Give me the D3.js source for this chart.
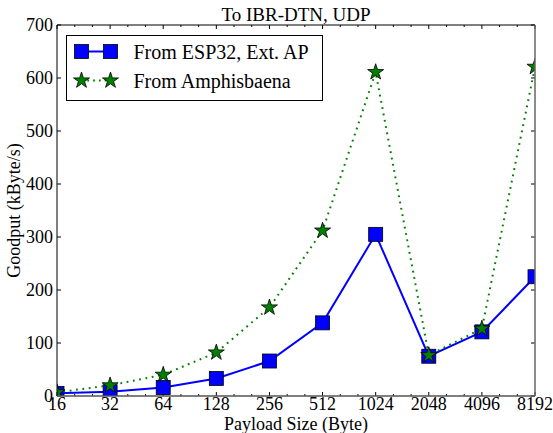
<!DOCTYPE html>
<html>
<head>
<meta charset="utf-8">
<script src="https://cdn.jsdelivr.net/npm/d3@7"></script>
<style>
  body { margin: 0; background: #fff; }
  text { font-family: "Liberation Serif", "DejaVu Serif", serif; }
</style>
</head>
<body>
<div id="chart"></div>
<script>
// payload sizes in bytes and goodput in kByte/s
const payloads = [16, 32, 64, 128, 256, 512, 1024, 2048, 4096, 8192]
const espGoodput = [5, 8, 16, 33, 66, 138, 305, 75, 121, 225]
const amphGoodput = [7, 20, 40, 82, 167, 312, 611, 77, 127, 621]
const yTicks = [0, 100, 200, 300, 400, 500, 600, 700]

const width = 553
const height = 433
const margin = { top: 25, right: 18, bottom: 37, left: 57 }
const w = width - margin.left - margin.right
const h = height - margin.top - margin.bottom

const svg = d3.select('#chart').append('svg')
  .attr('width', width)
  .attr('height', height)

const g = svg.append('g')
  .attr('transform', `translate(${margin.left}, ${margin.top})`)

const x = d3.scaleLog().base(2)
  .domain([16, 8192])
  .range([0, w])

const y = d3.scaleLinear()
  .domain([0, 700])
  .range([h, 0])

g.append('clipPath').attr('id', 'clip')
  .append('rect').attr('width', w).attr('height', h)

// ticks (inward, on all four sides)
const tickLen = 4
const minorTicks = []
payloads.slice(0, -1).forEach(p => {
  minorTicks.push(p * Math.pow(2, 1 / 3), p * Math.pow(2, 2 / 3))
})

const ticks = g.append('g').attr('stroke', '#000').attr('stroke-width', 1)
payloads.forEach(p => {
  ticks.append('line').attr('x1', x(p)).attr('x2', x(p)).attr('y1', h).attr('y2', h - tickLen)
  ticks.append('line').attr('x1', x(p)).attr('x2', x(p)).attr('y1', 0).attr('y2', tickLen)
})
minorTicks.forEach(p => {
  ticks.append('line').attr('x1', x(p)).attr('x2', x(p)).attr('y1', h).attr('y2', h - 2)
  ticks.append('line').attr('x1', x(p)).attr('x2', x(p)).attr('y1', 0).attr('y2', 2)
})
yTicks.forEach(t => {
  ticks.append('line').attr('x1', 0).attr('x2', tickLen).attr('y1', y(t)).attr('y2', y(t))
  ticks.append('line').attr('x1', w).attr('x2', w - tickLen).attr('y1', y(t)).attr('y2', y(t))
})

// tick labels
g.selectAll('.xlab')
  .data(payloads)
  .enter()
  .append('text')
  .attr('x', d => x(d))
  .attr('y', h + 14)
  .attr('text-anchor', 'middle')
  .style('font-size', '18px')
  .text(d => d)

g.selectAll('.ylab')
  .data(yTicks)
  .enter()
  .append('text')
  .attr('x', -4)
  .attr('y', d => y(d) + 6)
  .attr('text-anchor', 'end')
  .style('font-size', '18px')
  .text(d => d)

// lines and markers
const plot = g.append('g').attr('clip-path', 'url(#clip)')

const line = d3.line()
  .x(d => x(d[0]))
  .y(d => y(d[1]))

const espData = payloads.map((p, i) => [p, espGoodput[i]])
const amphData = payloads.map((p, i) => [p, amphGoodput[i]])

const sq = 14
const star = d3.symbol().type(d3.symbolStar).size(80)

plot.append('path')
  .datum(espData)
  .attr('fill', 'none')
  .attr('stroke', '#0000ff')
  .attr('stroke-width', 2)
  .attr('d', line)

plot.selectAll('.sq')
  .data(espData)
  .enter()
  .append('rect')
  .attr('x', d => x(d[0]) - sq / 2)
  .attr('y', d => y(d[1]) - sq / 2)
  .attr('width', sq)
  .attr('height', sq)
  .attr('fill', '#0000ff')
  .attr('stroke', '#000')
  .attr('stroke-width', 0.8)

plot.append('path')
  .datum(amphData)
  .attr('fill', 'none')
  .attr('stroke', '#008000')
  .attr('stroke-width', 2)
  .attr('stroke-dasharray', '1.8,4.6')
  .attr('d', line)

plot.selectAll('.star')
  .data(amphData)
  .enter()
  .append('path')
  .attr('d', star)
  .attr('transform', d => `translate(${x(d[0])}, ${y(d[1])})`)
  .attr('fill', '#008000')
  .attr('stroke', '#000')
  .attr('stroke-width', 0.8)

// spines
const spines = g.append('g').attr('fill', 'none')
spines.append('line').attr('x1', 0).attr('x2', w).attr('y1', 0).attr('y2', 0)
  .attr('stroke', '#000').attr('stroke-width', 1)
spines.append('line').attr('x1', 0).attr('x2', 0).attr('y1', 0).attr('y2', h)
  .attr('stroke', '#000').attr('stroke-width', 1)
spines.append('line').attr('x1', 0).attr('x2', w).attr('y1', h).attr('y2', h)
  .attr('stroke', '#555').attr('stroke-width', 1.5)
spines.append('line').attr('x1', w).attr('x2', w).attr('y1', 0).attr('y2', h)
  .attr('stroke', '#666').attr('stroke-width', 1.5)

// legend
const legend = g.append('g').attr('transform', 'translate(9.5, 10.5)')
legend.append('rect')
  .attr('width', 256)
  .attr('height', 65)
  .attr('fill', '#fff')
  .attr('stroke', '#000')
  .attr('stroke-width', 1)

const legendItems = [
  { name: 'From ESP32, Ext. AP', type: 'sq' },
  { name: 'From Amphisbaena', type: 'star' }
]
legendItems.forEach((item, i) => {
  const ly = 16 + i * 29
  const row = legend.append('g').attr('transform', `translate(0, ${ly})`)
  if (item.type === 'sq') {
    row.append('line').attr('x1', 15).attr('x2', 44).attr('stroke', '#0000ff').attr('stroke-width', 2)
    ;[15, 44].forEach(cx => {
      row.append('rect').attr('x', cx - sq / 2).attr('y', -sq / 2)
        .attr('width', sq).attr('height', sq)
        .attr('fill', '#0000ff').attr('stroke', '#000').attr('stroke-width', 0.8)
    })
  } else {
    row.append('line').attr('x1', 15).attr('x2', 44).attr('stroke', '#008000')
      .attr('stroke-width', 2).attr('stroke-dasharray', '1.8,4')
    ;[15, 44].forEach(cx => {
      row.append('path').attr('d', star).attr('transform', `translate(${cx}, 0)`)
        .attr('fill', '#008000').attr('stroke', '#000').attr('stroke-width', 0.8)
    })
  }
  row.append('text')
    .attr('x', 67)
    .attr('y', 7)
    .style('font-size', '20px')
    .text(item.name)
})

// title and axis labels
svg.append('text')
  .attr('x', margin.left + w / 2)
  .attr('y', 21)
  .attr('text-anchor', 'middle')
  .style('font-size', '19px')
  .text('To IBR-DTN, UDP')

svg.append('text')
  .attr('x', margin.left + w / 2)
  .attr('y', height - 3)
  .attr('text-anchor', 'middle')
  .style('font-size', '18px')
  .text('Payload Size (Byte)')

svg.append('text')
  .attr('transform', `translate(20, ${margin.top + h / 2}) rotate(-90)`)
  .attr('text-anchor', 'middle')
  .style('font-size', '18px')
  .text('Goodput (kByte/s)')
</script>
</body>
</html>
